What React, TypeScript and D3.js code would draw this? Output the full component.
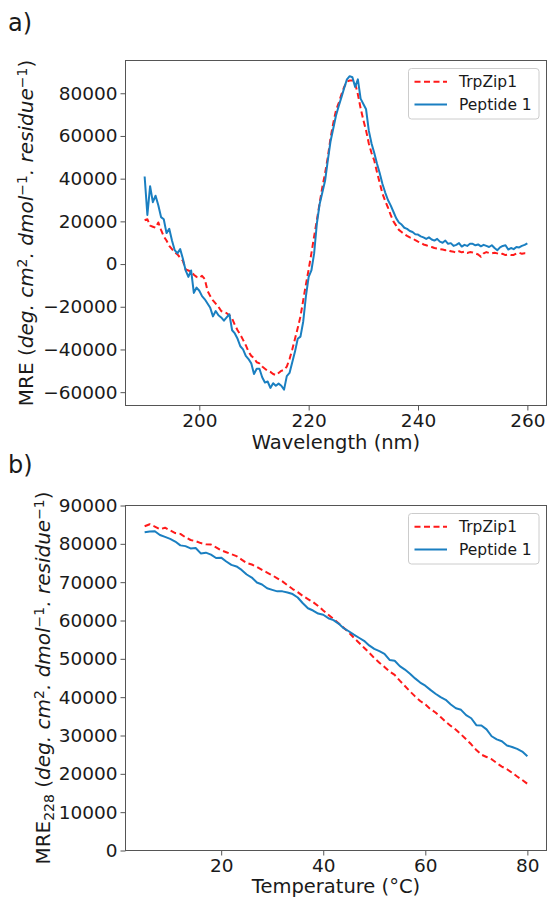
import React, { useEffect, useRef } from "react";
import * as d3 from "d3";

const FONT = "DejaVu Sans";
const RED = "#ff1a1a";
const BLUE = "#1a7fc1";

// ---- panel a) CD spectra, 190-260 nm every 0.5 nm ----
const wavelength = d3.range(190, 260.25, 0.5);
const trpzipSpectrum = [
  20500, 21000, 18000, 17500, 17000, 19500, 16000, 13000, 11000, 8500,
  7000, 5500, 4500, 3000, 1500, -2500, -3000, -3500, -5000, -6000,
  -6500, -5500, -7000, -12500, -15000, -17000, -18500, -20000, -22000, -22500,
  -23000, -24000, -25500, -28500, -31000, -33000, -35500, -38000, -41000, -43000,
  -44000, -46000, -46500, -48000, -49000, -50000, -50500, -51500, -52000, -51000,
  -50000, -49500, -48000, -44500, -40000, -35000, -30000, -24500, -17000, -9500,
  -2500, 5000, 13000, 20500, 28500, 36000, 42500, 50000, 59000, 66000,
  72000, 75500, 79500, 83000, 85500, 86000, 86000, 84500, 79500, 73000,
  67500, 62500, 56500, 52000, 48500, 43000, 38000, 33000, 29500, 26500,
  23000, 20000, 18000, 16000, 15000, 14000, 13200, 12500, 12000, 11200,
  10500, 10000, 9200, 8800, 8300, 8000, 7500, 7300, 7000, 6800,
  6500, 6700, 6000, 5800, 5300, 6000, 5500, 5800, 5200, 5600,
  5400, 5000, 4500, 3400, 5000, 5600, 5200, 5000, 5300, 5000,
  4600, 4800, 4200, 4400, 4200, 4300, 5000, 5300, 4800, 5100,
  5000,
];
const peptideSpectrum = [
  41000, 23000, 36500, 29000, 32000, 27500, 22000, 21000, 14500, 16500,
  11000, 6500, 5000, 7000, 2500, -3000, -6000, -3000, -13500, -11000,
  -12500, -15000, -16500, -18500, -20500, -24500, -22000, -24000, -25000, -26500,
  -25000, -23500, -31000, -32500, -35000, -38500, -40000, -43000, -44500, -46500,
  -51500, -49000, -49000, -53000, -55500, -55000, -58000, -55800, -57000, -56000,
  -57000, -58800, -52500, -51000, -46000, -41000, -35000, -34000, -27000, -15000,
  -6000, -3000, 5000, 19000, 28000, 33500, 39000, 48600, 57500, 63500,
  69600, 74000, 78200, 82500, 86500, 88000, 87500, 83000, 86500, 77500,
  75000, 72500, 62500, 56500, 52000, 47000, 42500, 37500, 33500, 30000,
  27500, 24500, 21500, 19500, 18500, 17000, 16500, 15500, 15000, 14000,
  13800, 13000, 12500, 11800, 12500, 11500, 11000, 11800, 10500, 10000,
  11000, 9500, 9800, 8500, 9000, 9800, 8200, 9000, 8500, 9500,
  9500, 8800, 9200, 8300, 9000, 8500, 8000, 8800, 7500, 6500,
  7800, 8500, 8800, 6800, 7500, 7000, 8000, 7800, 8500, 9000,
  9700,
];
const spectrumXTicks = [200, 220, 240, 260];
const spectrumYTicks = [-60000, -40000, -20000, 0, 20000, 40000, 60000, 80000];

// ---- panel b) thermal melt at 228 nm, 5-80 C ----
const temperature = d3.range(5, 81, 1);
const trpzipMelt = [
  84600, 85100, 84500, 83800, 84200, 83500, 82800, 82600, 81700, 81000,
  80700, 80200, 79900, 79800, 79100, 78300, 77800, 77300, 76800, 75900,
  75000, 74600, 74000, 73200, 72500, 71800, 71000, 70200, 69200, 68200,
  67400, 66400, 65600, 64800, 63800, 62600, 61500, 60400, 59300, 58100,
  56900, 55500, 54200, 52900, 51600, 50200, 49000, 47900, 46700, 45800,
  44300, 42900, 41500, 40200, 39000, 38100, 36900, 36000, 34800, 33600,
  32500, 31500, 30300, 29000, 27700, 26200, 25000, 24400, 23800, 22800,
  21900, 21200, 20300, 19300, 18400, 17400,
];
const peptideMelt = [
  83000, 83200, 83300, 82300, 81800, 81300, 80600, 79600, 79400, 78800,
  78900, 77500, 77700, 77200, 76300, 76400, 75400, 74500, 74100, 73200,
  72000, 71200, 69900, 69400, 68400, 68000, 67600, 67600, 67300, 66900,
  66000, 64500, 63200, 62600, 61800, 61500, 60600, 60100, 59200, 58000,
  57200, 56300, 55500, 54700, 53500, 52600, 52000, 51300, 49700, 49500,
  48100, 47200, 46100, 44900, 43800, 43000, 41900, 40900, 40000, 39300,
  38100, 37100, 36700, 35300, 34500, 32700, 32600, 31600, 29800, 29000,
  28500, 27400, 27000, 26500, 25800, 24600,
];
const meltXTicks = [20, 40, 60, 80];
const meltYTicks = [0, 10000, 20000, 30000, 40000, 50000, 60000, 70000, 80000, 90000];

const seriesNames = ["TrpZip1", "Peptide 1"];

const drawPanel = (svg, cfg) => {
  const { box, xDomain, yDomain, xTicks, yTicks, xs: xv, series, xLabel, yParts, yLabelX, tag, tagY, legendY, xLabelY } = cfg;
  const x = d3.scaleLinear().domain(xDomain).range([box.left, box.right]);
  const y = d3.scaleLinear().domain(yDomain).range([box.bottom, box.top]);
  const g = svg.append("g");

  series.forEach((s) => {
    const line = d3
      .line()
      .x((d, i) => x(xv[i]))
      .y((d) => y(d));
    g.append("path")
      .datum(s.values)
      .attr("d", line)
      .attr("fill", "none")
      .attr("stroke", s.color)
      .attr("stroke-width", 2)
      .attr("stroke-linejoin", "round")
      .attr("stroke-dasharray", s.dash || null);
  });

  // frame
  g.append("rect")
    .attr("x", box.left)
    .attr("y", box.top)
    .attr("width", box.right - box.left)
    .attr("height", box.bottom - box.top)
    .attr("fill", "none")
    .attr("stroke", "#555")
    .attr("stroke-width", 1);

  const fmt = d3.format("d");
  const xa = g.append("g")
    .attr("transform", `translate(0,${box.bottom})`)
    .call(d3.axisBottom(x).tickValues(xTicks).tickSize(5).tickPadding(3).tickFormat(fmt));
  const ya = g.append("g")
    .attr("transform", `translate(${box.left},0)`)
    .call(d3.axisLeft(y).tickValues(yTicks).tickSize(5).tickPadding(3).tickFormat(fmt));
  [xa, ya].forEach((a) => {
    a.select(".domain").remove();
    a.selectAll("line").attr("stroke", "#555");
    a.selectAll("text")
      .attr("fill", "#1a1a1a")
      .style("font-family", FONT)
      .style("font-size", "18.5px");
  });

  g.append("text")
    .attr("x", (box.left + box.right) / 2)
    .attr("y", xLabelY)
    .attr("text-anchor", "middle")
    .style("font-family", FONT)
    .style("font-size", "19.5px")
    .attr("fill", "#1a1a1a")
    .text(xLabel);

  const yl = g.append("text")
    .attr("transform", `translate(${yLabelX},${(box.top + box.bottom) / 2}) rotate(-90)`)
    .attr("text-anchor", "middle")
    .style("font-family", FONT)
    .style("font-size", "20px")
    .attr("fill", "#1a1a1a");
  yParts.forEach((p) => {
    const t = yl.append("tspan").text(p.t);
    if (p.it) t.style("font-style", "italic");
    if (p.sup) t.attr("baseline-shift", "45%").style("font-size", "14px");
    if (p.sub) t.attr("baseline-shift", "-25%").style("font-size", "14px");
  });

  svg.append("text")
    .attr("x", 8)
    .attr("y", tagY)
    .style("font-family", FONT)
    .style("font-size", "24px")
    .attr("fill", "#1a1a1a")
    .text(tag);

  // legend
  const lg = g.append("g");
  lg.append("rect")
    .attr("x", 408.5)
    .attr("y", legendY)
    .attr("width", 130.5)
    .attr("height", 50.5)
    .attr("rx", 3)
    .attr("fill", "white")
    .attr("fill-opacity", 0.8)
    .attr("stroke", "#cccccc");
  series.forEach((s, i) => {
    const cy = legendY + 13.3 + i * 22.6;
    lg.append("line")
      .attr("x1", 414.5)
      .attr("x2", 447)
      .attr("y1", cy)
      .attr("y2", cy)
      .attr("stroke", s.color)
      .attr("stroke-width", 2)
      .attr("stroke-dasharray", s.dash || null);
    lg.append("text")
      .attr("x", 459)
      .attr("y", cy)
      .attr("dy", "0.35em")
      .style("font-family", FONT)
      .style("font-size", "15.5px")
      .attr("fill", "#1a1a1a")
      .text(s.name);
  });
};

const unitParts = [
  { t: " (" },
  { t: "deg. cm", it: true },
  { t: "2", sup: true },
  { t: ". dmol", it: true },
  { t: "\u22121", sup: true },
  { t: ". residue", it: true },
  { t: "\u22121", sup: true },
  { t: ")" },
];

const App = () => {
  const ref = useRef(null);

  useEffect(() => {
    const svg = d3.select(ref.current);
    svg.selectAll("*").remove();

    drawPanel(svg, {
      box: { left: 125.5, right: 546.5, top: 60.5, bottom: 405.5 },
      xDomain: [186.5, 263.5],
      yDomain: [-66245, 95345],
      xTicks: spectrumXTicks,
      yTicks: spectrumYTicks,
      xs: wavelength,
      series: [
        { name: seriesNames[0], values: trpzipSpectrum, color: RED, dash: "6,3.5" },
        { name: seriesNames[1], values: peptideSpectrum, color: BLUE },
      ],
      xLabel: "Wavelength (nm)",
      xLabelY: 449,
      yParts: [{ t: "MRE" }, ...unitParts],
      yLabelX: 33,
      tag: "a)",
      tagY: 31,
      legendY: 68.5,
    });

    drawPanel(svg, {
      box: { left: 125.5, right: 546.5, top: 505.5, bottom: 850.5 },
      xDomain: [1.25, 83.75],
      yDomain: [0, 90000],
      xTicks: meltXTicks,
      yTicks: meltYTicks,
      xs: temperature,
      series: [
        { name: seriesNames[0], values: trpzipMelt, color: RED, dash: "6,3.5" },
        { name: seriesNames[1], values: peptideMelt, color: BLUE },
      ],
      xLabel: "Temperature (\u00b0C)",
      xLabelY: 893,
      yParts: [{ t: "MRE" }, { t: "228", sub: true }, ...unitParts],
      yLabelX: 50,
      tag: "b)",
      tagY: 473,
      legendY: 513.5,
    });
  }, []);

  return (
    <svg
      ref={ref}
      width={549}
      height={899}
      style={{ position: "absolute", left: 0, top: 0, background: "white" }}
    />
  );
};

export default App;
